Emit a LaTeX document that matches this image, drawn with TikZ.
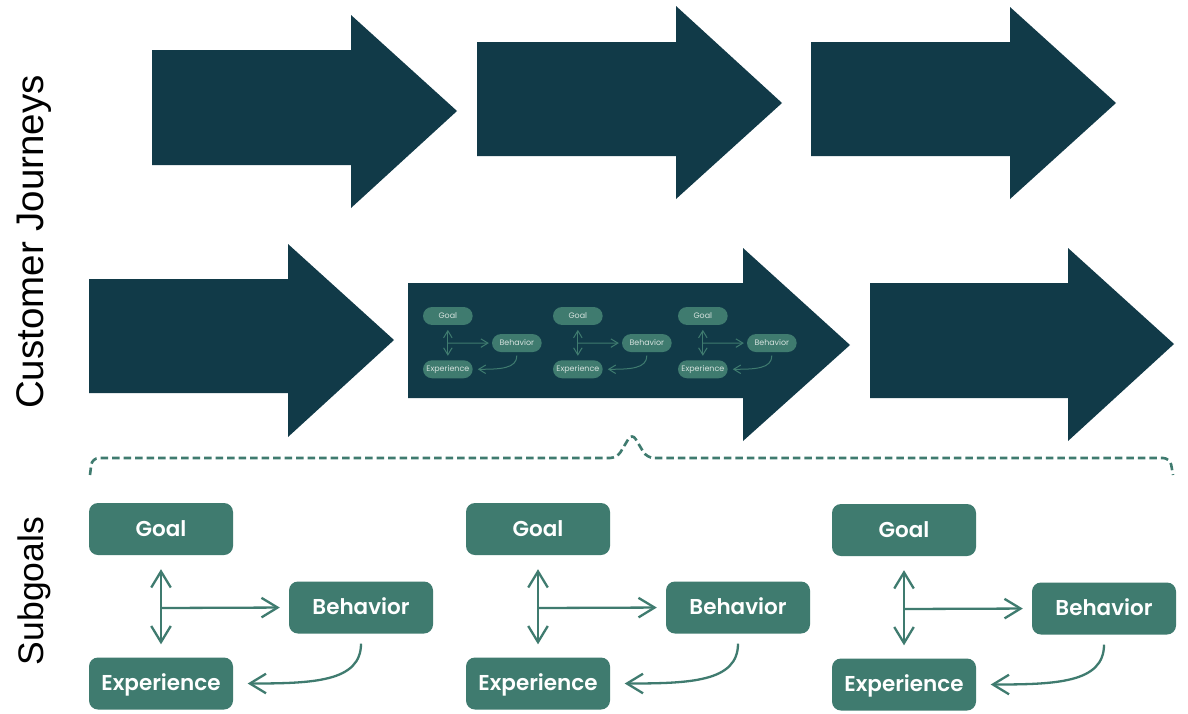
\documentclass[tikz,border=0pt]{standalone}
\usepackage{fontspec}
\usetikzlibrary{arrows.meta}
\newfontfamily\boxfont{Poppins}[BoldFont={Poppins SemiBold}]
\newfontfamily\labelfont{Liberation Sans}
\definecolor{journeyteal}{HTML}{113A48}
\definecolor{subgreen}{HTML}{3F7B6F}
\definecolor{minitext}{HTML}{D5E2DE}

\tikzset{
  sgbox/.style={fill=subgreen, rounded corners=9pt, minimum width=144pt, minimum height=52pt, inner sep=0pt,
    text height=14.7pt, text depth=0pt, text=white, font=\boxfont\bfseries\fontsize{21.5}{21.5}\selectfont},
  sglink/.style={draw=subgreen, line width=2.3pt, >={Straight Barb[length=0pt 7, width=0pt 8.5]}},
  mini/.style={sgbox/.append style={text=minitext, font=\boxfont\fontsize{23}{23}\selectfont},
    sglink/.append style={line width=1pt}},
  journey/.style={fill=journeyteal},
  bracket/.style={draw=subgreen, line width=2.6pt, dash pattern=on 7.5pt off 4pt, rounded corners=7pt},
  sidelabel/.style={rotate=90, anchor=base, inner sep=0pt, text=black},
}

\newcommand{\subgoalset}[5]{%
  \begin{scope}[shift={(#2,#3)}, scale=#4, transform shape, #5]
    \node [sgbox] (#1-goal) at (72,26) {Goal};
    \node [sgbox] (#1-beh) at (272,104.5) {Behavior};
    \node [sgbox] (#1-exp) at (72,180.5) {Experience};
    \coordinate (#1-fork) at (72,105);
    \draw [sglink, <->, shorten <=#4*14pt, shorten >=#4*13pt] (#1-goal.south) -- (#1-exp.north);
    \draw [sglink, ->, shorten >=#4*9pt] (#1-fork) -- (#1-beh.west);
    \draw [sglink, ->, shorten <=#4*10pt, shorten >=#4*14.5pt] (#1-beh.south) .. controls +(0,48) and +(80,0) .. (#1-exp.east);
  \end{scope}}

\begin{document}
\begin{tikzpicture}[x=1pt, y=-1pt]
  \fill [white] (0,0) rectangle (1188,713);
  \useasboundingbox (0,0) rectangle (1188,713);

  \foreach \bx/\bt/\bb/\hx/\ht/\hb/\tx/\ty in {152/50/165/351/15/208/457/111, 477/42/156/676/6/199/782/103,
      811/42/156/1010/7/199/1116/103, 89/279/393/288/244/437/394/340,
      408/283/398/743/248/441/850/345, 870/283/398/1068/248/441/1174/344}
    \fill [journey] (\bx,\bt) -- (\hx,\bt) -- (\hx,\ht) -- (\tx,\ty) -- (\hx,\hb) -- (\hx,\bb) -- (\bx,\bb) -- cycle;

  \foreach \n/\mx in {1/423, 2/553, 3/678}
    \subgoalset{m\n}{\mx}{307}{0.345}{mini};

  \draw [bracket] (90,475) -- (92,458) -- (617,458) -- (632,433) -- (647,458) -- (1170,458) -- (1173,475);

  \foreach \n/\gx/\gy in {1/89/503, 2/466/503, 3/832/504}
    \subgoalset{s\n}{\gx}{\gy}{1}{};

  \node [sidelabel, font=\labelfont\fontsize{38.5}{40}\selectfont] (journeys) at (43,242) {Customer Journeys};
  \node [sidelabel, font=\labelfont\fontsize{35.5}{37}\selectfont] (subgoals) at (43,591) {Subgoals};
\end{tikzpicture}
\end{document}
